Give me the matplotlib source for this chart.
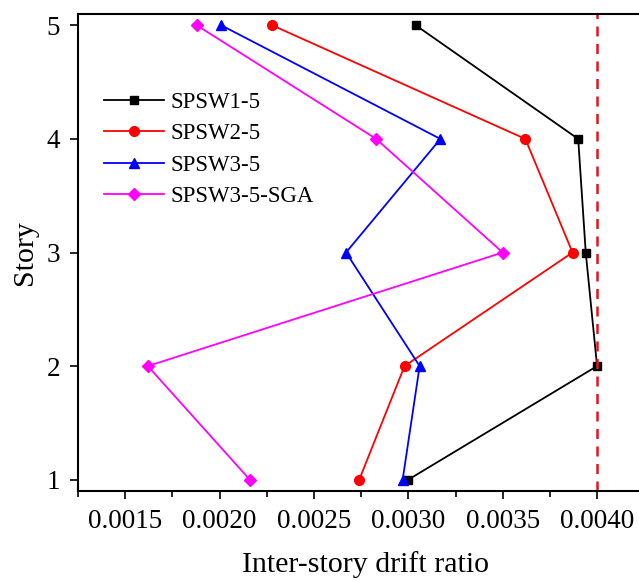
import matplotlib
matplotlib.use("Agg")
import matplotlib.pyplot as plt
from matplotlib.ticker import MultipleLocator

plt.rcParams["font.family"] = ["Liberation Serif", "DejaVu Serif"]

story = [1, 2, 3, 4, 5]
spsw1 = [0.00300, 0.00400, 0.00394, 0.00390, 0.00304]
spsw2 = [0.00274, 0.00298, 0.00387, 0.00362, 0.00228]
spsw3 = [0.00297, 0.00306, 0.00267, 0.00317, 0.00201]
spsw3_sga = [0.00216, 0.00162, 0.00350, 0.00283, 0.00188]
limit = 0.004

fig = plt.figure(figsize=(6.39, 5.81), dpi=100)
ax = fig.add_axes([78 / 639, 90 / 581, 1.023 - 78 / 639, 477 / 581])

ax.plot(spsw1, story, "-s", color="black", lw=1.3, ms=6, label="SPSW1-5")
ax.plot(spsw2, story, "-o", color="red", lw=1.3, ms=7, label="SPSW2-5")
ax.plot(spsw3, story, "-^", color="blue", lw=1.3, ms=7, label="SPSW3-5")
ax.plot(spsw3_sga, story, "-D", color="magenta", lw=1.3, ms=6, label="SPSW3-5-SGA")
ax.axvline(limit, color="#e0141e", ls=(0, (4, 3)), lw=1.8)

ax.set_xlim(0.00125, 0.0043)
ax.set_ylim(0.9, 5.1)
ax.xaxis.set_minor_locator(MultipleLocator(0.00025))
ax.set_xticks([0.0015, 0.0020, 0.0025, 0.0030, 0.0035, 0.0040])
ax.set_xticklabels(["0.0015", "0.0020", "0.0025", "0.0030", "0.0035", "0.0040"])
ax.set_yticks(story)
ax.tick_params(axis="both", which="major", direction="out", length=6, width=1.2, labelsize=19.5, pad=7)
ax.tick_params(axis="x", which="minor", direction="out", length=4, width=1.2)
for s in ax.spines.values():
    s.set_linewidth(1.5)

ax.set_xlabel("Inter-story drift ratio", fontsize=21.5, labelpad=12)
ax.set_ylabel("Story", fontsize=21.5, labelpad=6)

ax.legend(loc="upper left", bbox_to_anchor=(0.01, 0.88), frameon=False, fontsize=16.5,
          handlelength=2.6, labelspacing=0.45, handletextpad=0.3)

fig.savefig("out.png", dpi=100)
